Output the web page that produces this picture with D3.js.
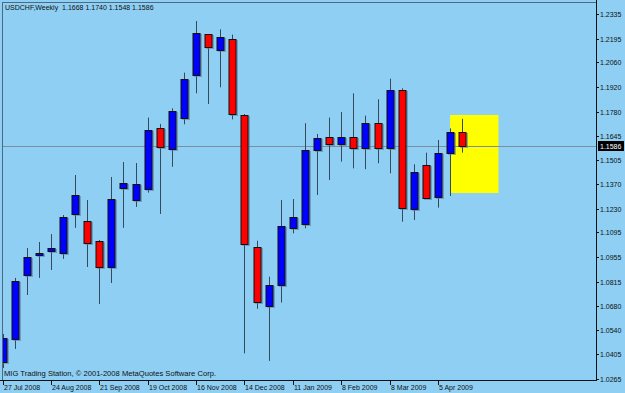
<!DOCTYPE html>
<html>
<head>
<meta charset="utf-8">
<script src="https://cdnjs.cloudflare.com/ajax/libs/d3/7.8.5/d3.min.js"></script>
<style>
  body { margin:0; background:#8ecff3; }
  svg text { font-family:"Liberation Sans", Arial, sans-serif; font-size:7px; fill:#111; }
  svg text.cap { font-size:7.6px; }
</style>
</head>
<body>
<div class="canvas"></div>
<script>
// weekly USDCHF candles, one per week starting 27 Jul 2008
const open  = [1.0360,1.0491,1.0854,1.0967,1.0990,1.0980,1.1200,1.1162,1.1047,1.0899,1.1349,1.1279,1.1340,1.1688,1.1571,1.1743,1.1989,1.2220,1.2131,1.2195,1.1760,1.1014,1.0680,1.0795,1.1119,1.1143,1.1563,1.1635,1.1593,1.1635,1.1573,1.1715,1.1573,1.1904,1.1232,1.1478,1.1292,1.1548,1.1668]
const high  = [1.0519,1.0837,1.1007,1.1041,1.1086,1.1194,1.1421,1.1279,1.1052,1.1410,1.1495,1.1489,1.1747,1.1711,1.1800,1.2002,1.2295,1.2221,1.2248,1.2218,1.1767,1.1048,1.0844,1.1279,1.1285,1.1715,1.1654,1.1747,1.1779,1.1885,1.1758,1.1851,1.1968,1.1913,1.1482,1.1548,1.1620,1.1686,1.1740]
const low   = [1.0326,1.0434,1.0740,1.0837,1.0882,1.0945,1.1121,1.0899,1.0689,1.0808,1.1121,1.1240,1.1321,1.1200,1.1468,1.1709,1.1885,1.1824,1.1919,1.1737,1.0409,1.0662,1.0366,1.0697,1.1090,1.1119,1.1308,1.1393,1.1497,1.1459,1.1454,1.1488,1.1431,1.1156,1.1166,1.1285,1.1236,1.1302,1.1548]
const close = [1.0496,1.0820,1.0956,1.0981,1.1007,1.1183,1.1308,1.1039,1.0899,1.1285,1.1376,1.1372,1.1675,1.1580,1.1785,1.1964,1.2226,1.2144,1.2203,1.1771,1.1028,1.0699,1.0797,1.1132,1.1183,1.1563,1.1631,1.1593,1.1635,1.1573,1.1715,1.1573,1.1904,1.1232,1.1440,1.1292,1.1544,1.1667,1.1586]

const priceTicks = [1.2335,1.2195,1.2060,1.1920,1.1780,1.1645,1.1505,1.1370,1.1230,1.1095,1.0955,1.0815,1.0680,1.0540,1.0405,1.0265]
const dateTicks = [0,4,8,12,16,20,24,28,32,36]
const dateLabels = ["27 Jul 2008","24 Aug 2008","21 Sep 2008","19 Oct 2008","16 Nov 2008","14 Dec 2008","11 Jan 2009","8 Feb 2009","8 Mar 2009","5 Apr 2009"]
const lastPrice = 1.1586
const boxBars = [37, 41]
const boxPrices = [1.1762, 1.1319]

let dim = { width:625, height:393 }
let plot = { left:2, top:2, right:596, bottom:380 }

let svg = d3.select(".canvas").append("svg").attr("width",dim.width).attr("height",dim.height)

const x = d3.scaleLinear().domain([0,36]).range([2.5,438])
const y = d3.scaleLinear().domain([1.0265,1.2335]).range([378.7,14])

svg.append("rect").attr("width",dim.width).attr("height",dim.height).attr("fill","#8ecff3")

svg.append("defs").append("clipPath").attr("id","clip")
  .append("rect").attr("x",plot.left).attr("y",plot.top)
  .attr("width",plot.right-plot.left).attr("height",plot.bottom-plot.top)

let graph = svg.append("g").attr("clip-path","url(#clip)")

// yellow box
graph.append("rect")
  .attr("x",x(boxBars[0])).attr("width",x(boxBars[1])-x(boxBars[0]))
  .attr("y",y(boxPrices[0])).attr("height",y(boxPrices[1])-y(boxPrices[0]))
  .attr("fill","#ffff00")

// last price line
graph.append("line")
  .attr("x1",plot.left).attr("x2",plot.right)
  .attr("y1",Math.round(y(lastPrice))+0.5).attr("y2",Math.round(y(lastPrice))+0.5)
  .attr("stroke","#7d8e9c")

const bars = d3.range(open.length)
const w = 7

const candles = graph.selectAll(".candle").data(bars).enter().append("g").attr("class","candle")

candles.append("line")
  .attr("x1",i => Math.round(x(i))+0.5).attr("x2",i => Math.round(x(i))+0.5)
  .attr("y1",i => y(high[i])).attr("y2",i => y(low[i]))
  .attr("stroke","#34495c").attr("stroke-width",1)

// soft shadow at the body's right/bottom
candles.append("rect")
  .attr("x",i => Math.round(x(i)) - 3 + 1)
  .attr("y",i => Math.round(y(Math.max(open[i],close[i]))) + 1)
  .attr("width",w+1)
  .attr("height",i => Math.max(1,Math.round(Math.abs(y(open[i])-y(close[i])))) + 1)
  .attr("fill","#5d7f99").attr("opacity",0.6)

candles.append("rect")
  .attr("x",i => Math.round(x(i)) - 3)
  .attr("y",i => Math.round(y(Math.max(open[i],close[i]))) + 0.5)
  .attr("width",w)
  .attr("height",i => Math.max(1,Math.round(Math.abs(y(open[i])-y(close[i])))))
  .attr("fill",i => close[i] >= open[i] ? "#0000ff" : "#ff0000")
  .attr("stroke","#111").attr("stroke-width",1)

// frame
svg.append("line").attr("x1",plot.left+0.5).attr("x2",plot.left+0.5).attr("y1",plot.top).attr("y2",plot.bottom).attr("stroke","#4d6a82")
svg.append("line").attr("x1",plot.left).attr("x2",plot.right).attr("y1",plot.top+0.5).attr("y2",plot.top+0.5).attr("stroke","#4d6a82")
svg.append("line").attr("x1",plot.right+0.5).attr("x2",plot.right+0.5).attr("y1",0).attr("y2",plot.bottom+1).attr("stroke","#111")
svg.append("line").attr("x1",0).attr("x2",plot.right+1).attr("y1",plot.bottom+0.5).attr("y2",plot.bottom+0.5).attr("stroke","#111")

// price axis
const yAxis = svg.append("g")
priceTicks.forEach(p => {
  let yy = Math.round(y(p))+0.5
  yAxis.append("line").attr("x1",plot.right+1).attr("x2",plot.right+3).attr("y1",yy).attr("y2",yy).attr("stroke","#111")
  yAxis.append("text").attr("x",600).attr("y",yy+2.5).text(p.toFixed(4))
})

let ly = Math.round(y(lastPrice))
svg.append("rect").attr("x",598).attr("y",ly-5).attr("width",26).attr("height",10).attr("fill","#000")
svg.append("text").attr("x",600).attr("y",ly+2.5).style("fill","#fff").text(lastPrice.toFixed(4))

// date axis
dateTicks.forEach((b,k) => {
  let xx = Math.round(x(b))+0.5
  svg.append("line").attr("x1",xx).attr("x2",xx).attr("y1",plot.bottom+1).attr("y2",plot.bottom+5).attr("stroke","#111")
  svg.append("text").attr("x",xx+0.5).attr("y",390).text(dateLabels[k])
})

// captions
svg.append("text").attr("x",5).attr("y",10)
  .text("USDCHF,Weekly  1.1668 1.1740 1.1548 1.1586").attr("xml:space","preserve")
svg.append("text").attr("class","cap").attr("x",4).attr("y",376)
  .text("MIG Trading Station, © 2001-2008 MetaQuotes Software Corp.")
</script>
</body>
</html>
